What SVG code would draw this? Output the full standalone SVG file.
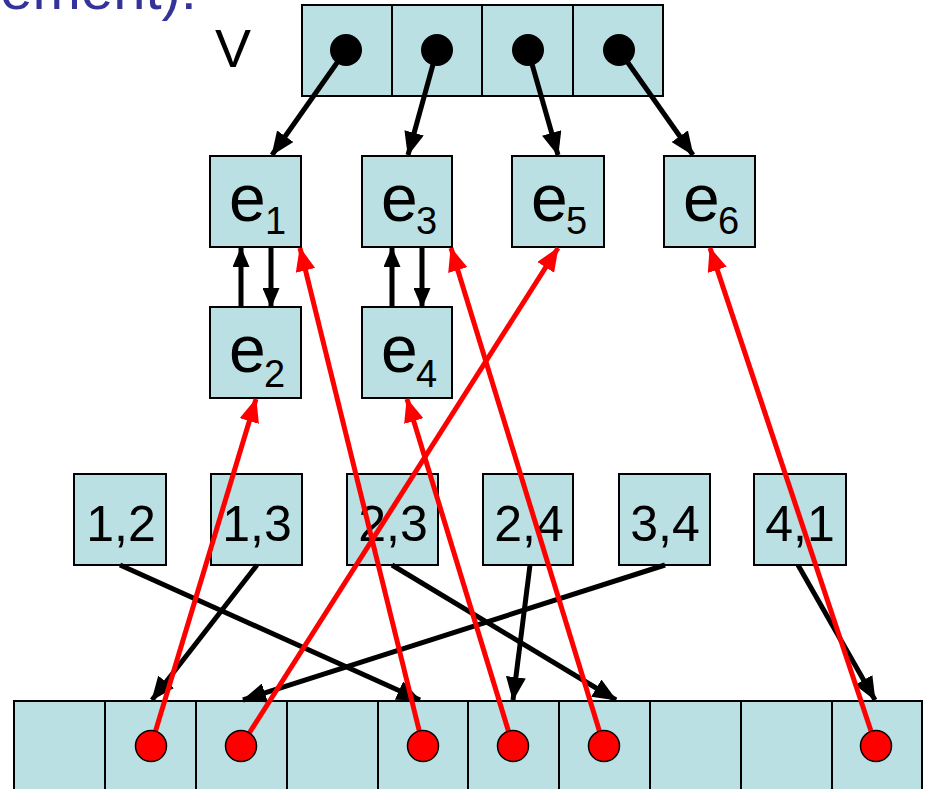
<svg xmlns="http://www.w3.org/2000/svg" width="926" height="789" viewBox="0 0 926 789">
<defs>
<style>
.box{fill:#BBE0E3;stroke:#000;stroke-width:2}
.lbl{font-family:"Liberation Sans",Arial,sans-serif;fill:#000}
.num{font-size:50px;text-anchor:middle}
.e{font-size:66px}
.sub{font-size:38px}
.blk{stroke:#000;stroke-width:5;fill:none}
.red{stroke:#FF0000;stroke-width:5;fill:none}
</style>
<marker id="ab" markerUnits="userSpaceOnUse" markerWidth="24" markerHeight="20" viewBox="0 0 24 20" refX="23" refY="10" orient="auto">
<path d="M0,0 L24,10 L0,20 z" fill="#000"/>
</marker>
<marker id="as" markerUnits="userSpaceOnUse" markerWidth="20" markerHeight="17" viewBox="0 0 20 17" refX="19" refY="8.5" orient="auto">
<path d="M0,0 L20,8.5 L0,17 z" fill="#000"/>
</marker>
<marker id="ar" markerUnits="userSpaceOnUse" markerWidth="24" markerHeight="20" viewBox="0 0 24 20" refX="23" refY="10" orient="auto">
<path d="M0,0 L24,10 L0,20 z" fill="#FF0000"/>
</marker>
</defs>
<rect width="926" height="789" fill="#fff"/>
<text x="197" y="9" font-family="'Liberation Sans',Arial,sans-serif" font-size="58" fill="#333399" text-anchor="end">ement):</text>
<text class="lbl" x="215" y="67" font-size="54">V</text>

<g id="V">
<rect class="box" x="302" y="5" width="90" height="91"/>
<rect class="box" x="392" y="5" width="90" height="91"/>
<rect class="box" x="482" y="5" width="91" height="91"/>
<rect class="box" x="573" y="5" width="90" height="91"/>
<circle cx="346" cy="50" r="16" fill="#000"/>
<circle cx="437" cy="50" r="16" fill="#000"/>
<circle cx="528" cy="50" r="16" fill="#000"/>
<circle cx="619" cy="50" r="16" fill="#000"/>
</g>

<g id="e1"><rect class="box" x="210" y="156" width="91" height="91"/><text class="lbl e" x="229" y="221">e</text><text class="lbl sub" x="265" y="234">1</text></g>
<g id="e3"><rect class="box" x="362" y="156" width="90" height="91"/><text class="lbl e" x="381" y="221">e</text><text class="lbl sub" x="416" y="234">3</text></g>
<g id="e5"><rect class="box" x="512" y="156" width="92" height="91"/><text class="lbl e" x="531" y="221">e</text><text class="lbl sub" x="566" y="234">5</text></g>
<g id="e6"><rect class="box" x="664" y="156" width="91" height="91"/><text class="lbl e" x="683" y="221">e</text><text class="lbl sub" x="718" y="234">6</text></g>
<g id="e2"><rect class="box" x="210" y="307" width="91" height="91"/><text class="lbl e" x="229" y="372">e</text><text class="lbl sub" x="264" y="387">2</text></g>
<g id="e4"><rect class="box" x="362" y="307" width="90" height="91"/><text class="lbl e" x="381" y="372">e</text><text class="lbl sub" x="416" y="387">4</text></g>

<g id="n12"><rect class="box" x="74" y="474" width="92" height="91"/><text class="lbl num" x="121" y="541">1,2</text></g>
<g id="n13"><rect class="box" x="211" y="474" width="91" height="91"/><text class="lbl num" x="257" y="541">1,3</text></g>
<g id="n23"><rect class="box" x="347" y="474" width="91" height="91"/><text class="lbl num" x="393" y="541">2,3</text></g>
<g id="n24"><rect class="box" x="483" y="474" width="90" height="91"/><text class="lbl num" x="529" y="541">2,4</text></g>
<g id="n34"><rect class="box" x="619" y="474" width="91" height="91"/><text class="lbl num" x="665" y="541">3,4</text></g>
<g id="n41"><rect class="box" x="754" y="474" width="92" height="91"/><text class="lbl num" x="800" y="541">4,1</text></g>

<g id="E">
<rect class="box" x="14" y="701" width="91" height="100"/>
<rect class="box" x="105" y="701" width="91" height="100"/>
<rect class="box" x="196" y="701" width="91" height="100"/>
<rect class="box" x="287" y="701" width="91" height="100"/>
<rect class="box" x="378" y="701" width="90" height="100"/>
<rect class="box" x="468" y="701" width="91" height="100"/>
<rect class="box" x="559" y="701" width="91" height="100"/>
<rect class="box" x="650" y="701" width="91" height="100"/>
<rect class="box" x="741" y="701" width="91" height="100"/>
<rect class="box" x="832" y="701" width="90" height="100"/>
</g>

<g id="connectors">
<line class="blk" x1="346" y1="50" x2="272" y2="155" marker-end="url(#ab)"/>
<line class="blk" x1="437" y1="50" x2="408" y2="155" marker-end="url(#ab)"/>
<line class="blk" x1="528" y1="50" x2="558" y2="155" marker-end="url(#ab)"/>
<line class="blk" x1="619" y1="50" x2="693" y2="155" marker-end="url(#ab)"/>

<line class="blk" x1="241" y1="307" x2="241" y2="248" marker-end="url(#as)"/>
<line class="blk" x1="271" y1="248" x2="271" y2="307" marker-end="url(#as)"/>
<line class="blk" x1="392" y1="307" x2="392" y2="248" marker-end="url(#as)"/>
<line class="blk" x1="422" y1="248" x2="422" y2="307" marker-end="url(#as)"/>

<line class="blk" x1="120" y1="565" x2="420" y2="700" marker-end="url(#ab)"/>
<line class="blk" x1="257" y1="565" x2="152" y2="700" marker-end="url(#ab)"/>
<line class="blk" x1="392" y1="565" x2="616" y2="700" marker-end="url(#ab)"/>
<line class="blk" x1="530" y1="565" x2="513" y2="700" marker-end="url(#ab)"/>
<line class="blk" x1="665" y1="565" x2="243" y2="700" marker-end="url(#ab)"/>
<line class="blk" x1="798" y1="565" x2="875" y2="700" marker-end="url(#ab)"/>

<line class="red" x1="151" y1="746" x2="256" y2="399" marker-end="url(#ar)"/>
<line class="red" x1="241" y1="746" x2="558" y2="248" marker-end="url(#ar)"/>
<line class="red" x1="423" y1="746" x2="300" y2="248" marker-end="url(#ar)"/>
<line class="red" x1="513" y1="746" x2="407" y2="399" marker-end="url(#ar)"/>
<line class="red" x1="604" y1="746" x2="451" y2="248" marker-end="url(#ar)"/>
<line class="red" x1="876" y1="746" x2="710" y2="248" marker-end="url(#ar)"/>
</g>

<g id="dots">
<circle cx="151" cy="746" r="15.5" fill="#FF0000" stroke="#000" stroke-width="1.5"/>
<circle cx="241" cy="746" r="15.5" fill="#FF0000" stroke="#000" stroke-width="1.5"/>
<circle cx="423" cy="746" r="15.5" fill="#FF0000" stroke="#000" stroke-width="1.5"/>
<circle cx="513" cy="746" r="15.5" fill="#FF0000" stroke="#000" stroke-width="1.5"/>
<circle cx="604" cy="746" r="15.5" fill="#FF0000" stroke="#000" stroke-width="1.5"/>
<circle cx="876" cy="746" r="15.5" fill="#FF0000" stroke="#000" stroke-width="1.5"/>
</g>
</svg>
